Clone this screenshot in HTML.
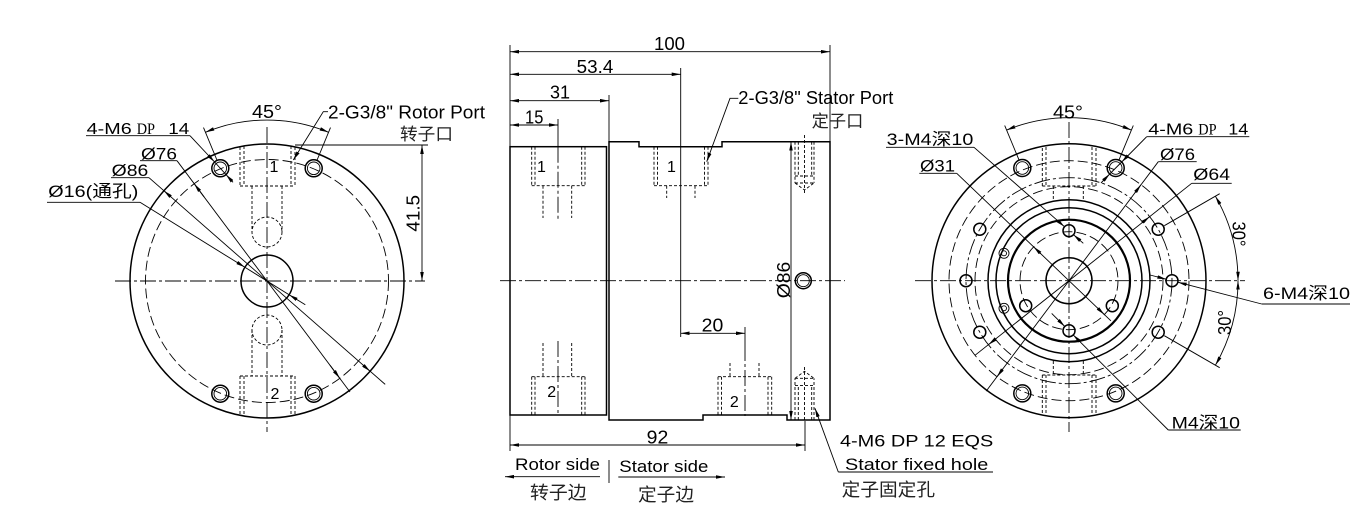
<!DOCTYPE html>
<html>
<head>
<meta charset="utf-8">
<style>
html,body{margin:0;padding:0;background:#fff;}
svg{display:block;}
.o{stroke:#000;stroke-width:1.5;fill:none}
.t{stroke:#000;stroke-width:0.9;fill:none}
.h{stroke:#000;stroke-width:0.9;fill:none;stroke-dasharray:3 2}
.d{stroke:#000;stroke-width:0.9;fill:none;stroke-dasharray:10 4}
.c{stroke:#000;stroke-width:0.9;fill:none;stroke-dasharray:16 3 3 3}
.k{stroke:#000;stroke-width:2.2;fill:none}
text{font-family:"Liberation Sans","Noto Sans CJK SC",sans-serif;fill:#000}
.cj{font-family:"Liberation Sans","Noto Sans CJK SC",sans-serif;fill:#222}
.sf{font-family:"Liberation Serif",serif}
</style>
</head>
<body>
<svg width="1372" height="531" viewBox="0 0 1372 531" xmlns="http://www.w3.org/2000/svg">
<defs>
<marker id="ar" viewBox="0 0 10 4" refX="10" refY="2" markerWidth="9" markerHeight="3.6" orient="auto-start-reverse" markerUnits="userSpaceOnUse"><path d="M0,0L10,2L0,4Z" fill="#000"/></marker>
</defs>
<rect width="1372" height="531" fill="#fff"/>

<!-- ================= LEFT VIEW ================= -->
<g>
<circle cx="267" cy="281" r="137" class="o"/>
<circle cx="267" cy="281" r="121.5" class="d"/>
<circle cx="267" cy="281" r="26" class="o"/>
<line x1="115" y1="281" x2="425" y2="281" class="c"/>
<line x1="267" y1="127" x2="267" y2="432" class="c"/>
<g>
<circle cx="220.3" cy="168.3" r="8.5" class="o"/><circle cx="220.3" cy="168.3" r="6.3" class="t"/>
<circle cx="313.7" cy="168.3" r="8.5" class="o"/><circle cx="313.7" cy="168.3" r="6.3" class="t"/>
<circle cx="220.3" cy="393.7" r="8.5" class="o"/><circle cx="220.3" cy="393.7" r="6.3" class="t"/>
<circle cx="313.7" cy="393.7" r="8.5" class="o"/><circle cx="313.7" cy="393.7" r="6.3" class="t"/>
</g>
<path class="h" d="M240,147V186M244,146V186M291,146V186M295,147V186M240,186H295M252,186V232M282,186V232"/>
<circle cx="267" cy="232" r="15" class="h"/>
<path class="h" d="M240,376V415M244,376V416M291,376V416M295,376V415M240,376H295M252,330V376M282,330V376"/>
<circle cx="267" cy="330" r="15" class="h"/>
<text x="274" y="172" font-size="16" text-anchor="middle">1</text>
<text x="275" y="399" font-size="16" text-anchor="middle">2</text>
<path class="t" d="M205.4,132.3A161,161 0 0 1 328.6,132.3" marker-start="url(#ar)" marker-end="url(#ar)"/>
<line x1="216.9" y1="160" x2="203.5" y2="127.6" class="t"/>
<line x1="317.1" y1="160" x2="330.5" y2="127.6" class="t"/>
<text x="267" y="118" font-size="18" text-anchor="middle" textLength="30" lengthAdjust="spacingAndGlyphs">45°</text>
<path class="t" d="M328,111.7H323.3L293.3,160" marker-end="url(#ar)"/>
<text x="328" y="118.3" font-size="18" textLength="157" lengthAdjust="spacingAndGlyphs">2-G3/8&quot;  Rotor Port</text>
<text x="400" y="140" font-size="17" class="cj" textLength="53" lengthAdjust="spacingAndGlyphs">转子口</text>
<line x1="295" y1="145" x2="428" y2="145" class="t"/>
<line x1="422" y1="145" x2="422" y2="281" class="t" marker-start="url(#ar)" marker-end="url(#ar)"/>
<text transform="translate(419.5,213.3) rotate(-90)" font-size="18" text-anchor="middle" textLength="36.7" lengthAdjust="spacingAndGlyphs">41.5</text>
<text x="86.7" y="134" font-size="16" textLength="45" lengthAdjust="spacingAndGlyphs">4-M6</text>
<text x="136.7" y="134" font-size="16" class="sf" textLength="18.3" lengthAdjust="spacingAndGlyphs">DP</text>
<text x="168.3" y="134" font-size="16" textLength="21" lengthAdjust="spacingAndGlyphs">14</text>
<line x1="86" y1="135.7" x2="190" y2="135.7" class="t"/>
<path class="t" d="M190,135.7L214.6,162" marker-end="url(#ar)"/>
<path class="t" d="M214.6,162L226,174.6"/>
<path class="t" d="M233,182.3L226,174.6" marker-end="url(#ar)"/>
<text x="141" y="159.3" font-size="17" textLength="36" lengthAdjust="spacingAndGlyphs">Ø76</text>
<line x1="140" y1="160.7" x2="177" y2="160.7" class="t"/>
<line x1="177" y1="160.7" x2="350" y2="392" class="t"/>
<path class="t" d="M204,196.8L194.2,183.7" marker-end="url(#ar)"/>
<path class="t" d="M330,365.2L339.8,378.3" marker-end="url(#ar)"/>
<text x="111.7" y="176" font-size="17" textLength="36.6" lengthAdjust="spacingAndGlyphs">Ø86</text>
<line x1="111" y1="177.7" x2="149" y2="177.7" class="t"/>
<line x1="149" y1="177.7" x2="385.2" y2="384.4" class="t"/>
<path class="t" d="M171.4,197.3L163.9,190.7" marker-end="url(#ar)"/>
<path class="t" d="M362.6,364.7L370.1,371.3" marker-end="url(#ar)"/>
<text x="48.3" y="197" font-size="17" textLength="90" lengthAdjust="spacingAndGlyphs">Ø16(通孔)</text>
<line x1="47" y1="202.3" x2="140" y2="202.3" class="t"/>
<path class="t" d="M140,202.3L244.9,267.3" marker-end="url(#ar)"/>
<path class="t" d="M244.9,267.3L289.1,294.7"/>
<path class="t" d="M305.3,304.7L289.1,294.7" marker-end="url(#ar)"/>
</g>

<!-- ================= MIDDLE VIEW ================= -->
<g>
<rect x="510" y="146.7" width="96.5" height="268.3" class="o"/>
<path class="o" d="M609,141.7H639V146.7H722V141.7H830V420H787V415H703V420H609Z"/>
<line x1="500" y1="280.7" x2="845" y2="280.7" class="c"/>
<path class="t" d="M510,45V146.7M510,415V451M830,45V141.7M609,95V141.7M680.7,68V337M558,119V146.7M805,421V451M745,327V345"/>
<path class="c" d="M558,146.7V220M558,341V415M745,345V416"/>
<line x1="510" y1="51.7" x2="830" y2="51.7" class="t" marker-start="url(#ar)" marker-end="url(#ar)"/>
<text x="669.5" y="50" font-size="18.5" text-anchor="middle" textLength="31" lengthAdjust="spacingAndGlyphs">100</text>
<line x1="510" y1="74.3" x2="680.7" y2="74.3" class="t" marker-start="url(#ar)" marker-end="url(#ar)"/>
<text x="595" y="72.8" font-size="18.5" text-anchor="middle" textLength="36.6" lengthAdjust="spacingAndGlyphs">53.4</text>
<line x1="510" y1="100.7" x2="609" y2="100.7" class="t" marker-start="url(#ar)" marker-end="url(#ar)"/>
<text x="560" y="98.3" font-size="18.5" text-anchor="middle" textLength="20" lengthAdjust="spacingAndGlyphs">31</text>
<line x1="510" y1="125" x2="558" y2="125" class="t" marker-start="url(#ar)" marker-end="url(#ar)"/>
<text x="534.2" y="123.3" font-size="18.5" text-anchor="middle" textLength="18.3" lengthAdjust="spacingAndGlyphs">15</text>
<line x1="510" y1="445" x2="805" y2="445" class="t" marker-start="url(#ar)" marker-end="url(#ar)"/>
<text x="657.5" y="443.3" font-size="18.5" text-anchor="middle" textLength="21.6" lengthAdjust="spacingAndGlyphs">92</text>
<line x1="680.7" y1="333.3" x2="745" y2="333.3" class="t" marker-start="url(#ar)" marker-end="url(#ar)"/>
<text x="712.5" y="331.7" font-size="18.5" text-anchor="middle" textLength="21.6" lengthAdjust="spacingAndGlyphs">20</text>
<line x1="791" y1="141.7" x2="791" y2="420" class="t" marker-start="url(#ar)" marker-end="url(#ar)"/>
<text transform="translate(790,280) rotate(-90)" font-size="18" text-anchor="middle" textLength="36.6" lengthAdjust="spacingAndGlyphs">Ø86</text>
<circle cx="803.3" cy="280.7" r="8" class="o"/><circle cx="803.3" cy="280.7" r="6" class="t"/>
<path class="h" d="M795,141.7V183M814,141.7V183M798.3,141.7V176M811.7,141.7V176M795,176H814M795,183H814M795,183L804.5,190L814,183M804.5,135V195"/>
<path class="h" d="M795,420V378.3M814,420V378.3M798.3,420V385.4M811.7,420V385.4M795,385.4H814M795,378.3H814M795,378.3L804.5,371.3L814,378.3M804.5,367V421"/>
<path class="h" d="M531.7,146.7V185.7M535,146.7V185.7M581.7,146.7V185.7M585,146.7V185.7M531.7,185.7H585M543,185.7V218M571.7,185.7V218"/>
<path class="h" d="M531.7,376.7V415M535,376.7V415M581.7,376.7V415M585,376.7V415M531.7,376.7H585M543,343V376.7M571.7,343V376.7"/>
<path class="h" d="M654,146.7V185.7M657.5,146.7V185.7M704.5,146.7V185.7M708,146.7V185.7M654,185.7H708M666.7,185.7V198M695,185.7V198"/>
<path class="h" d="M718,376.7V415M721.5,376.7V415M768,376.7V415M771.7,376.7V415M718,376.7H771.7M730,363V376.7M759,363V376.7"/>
<text x="541.5" y="172" font-size="16" text-anchor="middle">1</text>
<text x="671.5" y="172" font-size="16" text-anchor="middle">1</text>
<text x="551.7" y="397" font-size="16" text-anchor="middle">2</text>
<text x="734.3" y="407" font-size="16" text-anchor="middle">2</text>
<path class="t" d="M738.3,98.3H730L706.7,161.7" marker-end="url(#ar)"/>
<text x="738.3" y="104" font-size="18" textLength="155" lengthAdjust="spacingAndGlyphs">2-G3/8&quot; Stator Port</text>
<text x="811.7" y="127" font-size="17" class="cj" textLength="51.6" lengthAdjust="spacingAndGlyphs">定子口</text>
<text x="515" y="470" font-size="17" textLength="85" lengthAdjust="spacingAndGlyphs">Rotor side</text>
<line x1="609" y1="460" x2="609" y2="483" class="t"/>
<text x="619.3" y="472" font-size="17" textLength="89" lengthAdjust="spacingAndGlyphs">Stator side</text>
<path class="t" d="M600,476.7H505" marker-end="url(#ar)"/>
<path class="t" d="M618.3,477H725" marker-end="url(#ar)"/>
<text x="530" y="499" font-size="18" class="cj" textLength="56.7" lengthAdjust="spacingAndGlyphs">转子边</text>
<text x="638" y="501" font-size="18" class="cj" textLength="56" lengthAdjust="spacingAndGlyphs">定子边</text>
<text x="840" y="446.7" font-size="17" textLength="153.3" lengthAdjust="spacingAndGlyphs">4-M6 DP 12 EQS</text>
<text x="845" y="470" font-size="17" textLength="143.3" lengthAdjust="spacingAndGlyphs">Stator fixed hole</text>
<line x1="838.3" y1="472" x2="993" y2="472" class="t"/>
<path class="t" d="M838.3,472L815,408.3" marker-end="url(#ar)"/>
<text x="841.7" y="496" font-size="18" class="cj" textLength="93.3" lengthAdjust="spacingAndGlyphs">定子固定孔</text>
</g>

<!-- ================= RIGHT VIEW ================= -->
<g>
<circle cx="1069" cy="280.7" r="137" class="o"/>
<circle cx="1069" cy="280.7" r="120" class="d"/>
<circle cx="1069" cy="280.7" r="103" class="c"/>
<circle cx="1069" cy="280.7" r="94" class="d"/>
<circle cx="1069" cy="280.7" r="81" class="o"/>
<circle cx="1069" cy="280.7" r="73" class="o"/>
<circle cx="1069" cy="280.7" r="61" class="k"/>
<circle cx="1069" cy="280.7" r="49" class="d"/>
<circle cx="1069" cy="280.7" r="23" class="o"/>
<line x1="915" y1="280.7" x2="1245" y2="280.7" class="c"/>
<line x1="1069" y1="122" x2="1069" y2="432" class="c"/>
<path class="h" d="M1042.3,148V186M1046,147V186M1092,147V186M1096,148V186M1042.3,186H1096M1053.3,186V200M1083.3,186V200"/>
<path class="h" d="M1042.3,375V414M1046,375V415M1092,375V415M1096,375V414M1042.3,375H1096M1053.3,361V375M1083.3,361V375"/>
<circle cx="1022.3" cy="168" r="8.5" class="o"/><circle cx="1022.3" cy="168" r="6.3" class="t"/>
<circle cx="1115.7" cy="168" r="8.5" class="o"/><circle cx="1115.7" cy="168" r="6.3" class="t"/>
<circle cx="1022.3" cy="393.4" r="8.5" class="o"/><circle cx="1022.3" cy="393.4" r="6.3" class="t"/>
<circle cx="1115.7" cy="393.4" r="8.5" class="o"/><circle cx="1115.7" cy="393.4" r="6.3" class="t"/>
<circle cx="1172" cy="280.7" r="6" class="o" fill="#fff"/>
<circle cx="1158.2" cy="229.2" r="6" class="o" fill="#fff"/>
<circle cx="1158.2" cy="332.2" r="6" class="o" fill="#fff"/>
<circle cx="966" cy="280.7" r="6" class="o" fill="#fff"/>
<circle cx="979.8" cy="229.2" r="6" class="o" fill="#fff"/>
<circle cx="979.8" cy="332.2" r="6" class="o" fill="#fff"/>
<circle cx="1069" cy="230.7" r="6" class="o" fill="#fff"/>
<circle cx="1069" cy="330.7" r="6" class="o" fill="#fff"/>
<circle cx="1025.7" cy="305.7" r="6" class="o" fill="#fff"/>
<circle cx="1112.3" cy="305.7" r="6" class="o" fill="#fff"/>
<circle cx="1004" cy="253.3" r="5" class="t" fill="#fff"/><circle cx="1004" cy="253.3" r="2.5" class="t"/>
<circle cx="1004" cy="308.3" r="5" class="t" fill="#fff"/><circle cx="1004" cy="308.3" r="2.5" class="t"/>
<path class="t" d="M1006.6,130.1A163,163 0 0 1 1131.4,130.1" marker-start="url(#ar)" marker-end="url(#ar)"/>
<line x1="1018.9" y1="159.7" x2="1004.7" y2="125.5" class="t"/>
<line x1="1119.1" y1="159.7" x2="1133.3" y2="125.5" class="t"/>
<text x="1068" y="118.3" font-size="18" text-anchor="middle" textLength="30" lengthAdjust="spacingAndGlyphs">45°</text>
<text x="886.7" y="145" font-size="17" textLength="86.6" lengthAdjust="spacingAndGlyphs">3-M4深10</text>
<line x1="886" y1="147.3" x2="974" y2="147.3" class="t"/>
<path class="t" d="M974,147.3L1064.5,226.7" marker-end="url(#ar)"/>
<path class="t" d="M1083.3,243.3L1073.5,234.7" marker-end="url(#ar)"/>
<text x="920" y="171.5" font-size="17" textLength="35" lengthAdjust="spacingAndGlyphs">Ø31</text>
<line x1="919.3" y1="173.3" x2="956.7" y2="173.3" class="t"/>
<line x1="956.7" y1="173.3" x2="1110.9" y2="320.8" class="t"/>
<path class="t" d="M1040.8,253.7L1033.6,246.8" marker-end="url(#ar)"/>
<path class="t" d="M1097.2,307.7L1104.4,314.6" marker-end="url(#ar)"/>
<text x="1148.3" y="134.3" font-size="16" textLength="45" lengthAdjust="spacingAndGlyphs">4-M6</text>
<text x="1198.3" y="134.3" font-size="16" class="sf" textLength="18.3" lengthAdjust="spacingAndGlyphs">DP</text>
<text x="1228.3" y="134.3" font-size="16" textLength="20" lengthAdjust="spacingAndGlyphs">14</text>
<line x1="1146.7" y1="136.7" x2="1249.3" y2="136.7" class="t"/>
<path class="t" d="M1146.7,136.7L1121.7,162" marker-end="url(#ar)"/>
<path class="t" d="M1121.7,162L1109.7,174"/>
<path class="t" d="M1101,183L1109.7,174" marker-end="url(#ar)"/>
<text x="1160" y="160" font-size="17" textLength="35" lengthAdjust="spacingAndGlyphs">Ø76</text>
<line x1="1158.3" y1="161.7" x2="1196.7" y2="161.7" class="t"/>
<line x1="1158.3" y1="161.7" x2="986.2" y2="391.1" class="t"/>
<path class="t" d="M1135,192.7L1141,184.7" marker-end="url(#ar)"/>
<path class="t" d="M1003,368.7L997,376.7" marker-end="url(#ar)"/>
<text x="1193.3" y="180" font-size="17" textLength="36.7" lengthAdjust="spacingAndGlyphs">Ø64</text>
<line x1="1191.7" y1="183.3" x2="1231.7" y2="183.3" class="t"/>
<line x1="1191.7" y1="183.3" x2="975" y2="355.3" class="t"/>
<path class="t" d="M1141.8,222.9L1149.6,216.7" marker-end="url(#ar)"/>
<path class="t" d="M996.2,338.5L988.4,344.7" marker-end="url(#ar)"/>
<text x="1263" y="299" font-size="17" textLength="87" lengthAdjust="spacingAndGlyphs">6-M4深10</text>
<line x1="1261.7" y1="304" x2="1350" y2="304" class="t"/>
<path class="t" d="M1261.7,304L1177.8,282.2" marker-end="url(#ar)"/>
<path class="t" d="M1150,275L1166.2,279.2" marker-end="url(#ar)"/>
<text x="1171.7" y="428.3" font-size="17" textLength="68.3" lengthAdjust="spacingAndGlyphs">M4深10</text>
<line x1="1168.3" y1="430" x2="1240.7" y2="430" class="t"/>
<path class="t" d="M1168.3,430L1073.2,334.9" marker-end="url(#ar)"/>
<path class="t" d="M1051.7,313.4L1064.8,326.5" marker-end="url(#ar)"/>
<path class="t" d="M1215.4,196.2A169,169 0 0 1 1238,280.7" marker-start="url(#ar)" marker-end="url(#ar)"/>
<path class="t" d="M1238,280.7A169,169 0 0 1 1215.4,365.2" marker-start="url(#ar)" marker-end="url(#ar)"/>
<line x1="1164.3" y1="225.7" x2="1219.7" y2="193.7" class="t"/>
<line x1="1164.3" y1="335.7" x2="1219.7" y2="367.7" class="t"/>
<text transform="translate(1232.5,234) rotate(90)" font-size="18" text-anchor="middle" textLength="25" lengthAdjust="spacingAndGlyphs">30°</text>
<text transform="translate(1231,322.5) rotate(-90)" font-size="18" text-anchor="middle" textLength="25" lengthAdjust="spacingAndGlyphs">30°</text>
</g>
</svg>
</body>
</html>
